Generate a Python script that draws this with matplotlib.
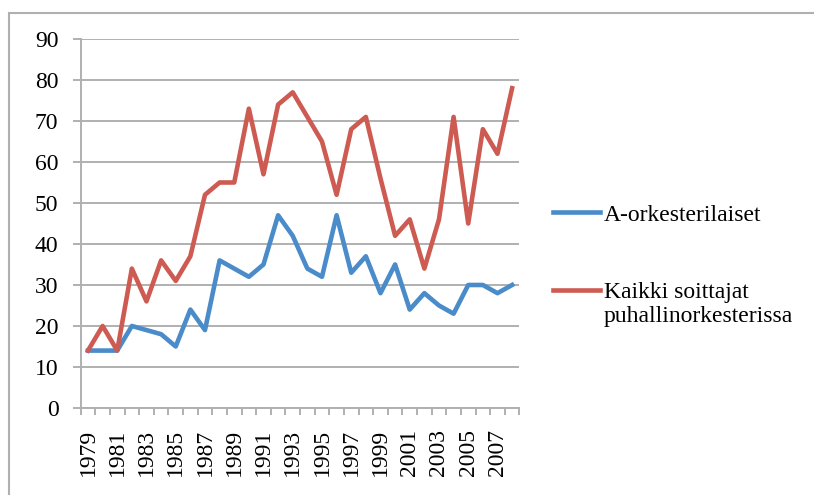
import matplotlib.pyplot as plt
from matplotlib.patches import Rectangle

# -------------------------------
# Data
# -------------------------------
years = list(range(1979, 2009))
a_orkesteri = [14, 14, 14, 20, 19, 18, 15, 24, 19, 36,
               34, 32, 35, 47, 42, 34, 32, 47, 33, 37,
               28, 35, 24, 28, 25, 23, 30, 30, 28, 30]
kaikki = [14, 20, 14, 34, 26, 36, 31, 37, 52, 55,
          55, 73, 57, 74, 77, 71, 65, 52, 68, 71,
          56, 42, 46, 34, 46, 71, 45, 68, 62, 78]
labels = ["A-orkesterilaiset", "Kaikki soittajat\npuhallinorkesterissa"]

plt.rcParams['font.family'] = ['Liberation Serif', 'DejaVu Serif']

fig = plt.figure(figsize=(8.14, 4.95), dpi=100)
ax = fig.add_axes([0.0991, 0.1758, 0.539, 0.7454])

# outer frame (only top and left visible, cropped on the other sides)
fig.patches.append(Rectangle((9 / 814, -0.1), 1.0, 1 - 13 / 495 + 0.1,
                             transform=fig.transFigure, fill=False,
                             edgecolor='#b0b0b0', linewidth=1.5))

x = list(range(len(years)))
ax.plot(x, a_orkesteri, color='#4a8bc9', linewidth=3.3, label=labels[0])
ax.plot(x, kaikki, color='#cd5b52', linewidth=3.3, label=labels[1])

ax.set_xlim(-0.5, len(years) - 0.5)
ax.set_ylim(0, 90)
ax.set_yticks(range(0, 91, 10))
ax.set_xticks(x[::2])
ax.set_xticklabels([str(y) for y in years[::2]], rotation=90)
ax.set_xticks([i - 0.5 for i in range(len(years) + 1)], minor=True)

ax.grid(axis='y', color='#b0b0b0', linewidth=1.4)
ax.set_axisbelow(True)
for side in ['top', 'right']:
    ax.spines[side].set_visible(False)
for side in ['left', 'bottom']:
    ax.spines[side].set_color('#b0b0b0')
    ax.spines[side].set_linewidth(1.4)

ax.tick_params(axis='y', length=6, width=1.4, color='#b0b0b0',
               labelsize=17, pad=10)
ax.tick_params(axis='x', which='major', length=0, labelsize=17, pad=15)
ax.tick_params(axis='x', which='minor', length=5, width=1.4, color='#b0b0b0')

leg = ax.legend(loc='upper left', bbox_to_anchor=(553 / 814, 1 - 204 / 495),
                bbox_transform=fig.transFigure, frameon=False, fontsize=17,
                handlelength=2.0, handletextpad=0.15, labelspacing=2.4,
                borderpad=0, borderaxespad=0)
# keep the second handle level with the first line of its two-line label
h = leg.legend_handles[1]
h.set_ydata([v + 0.6 * 17 for v in h.get_ydata()])

fig.savefig('out.png', dpi=100)
